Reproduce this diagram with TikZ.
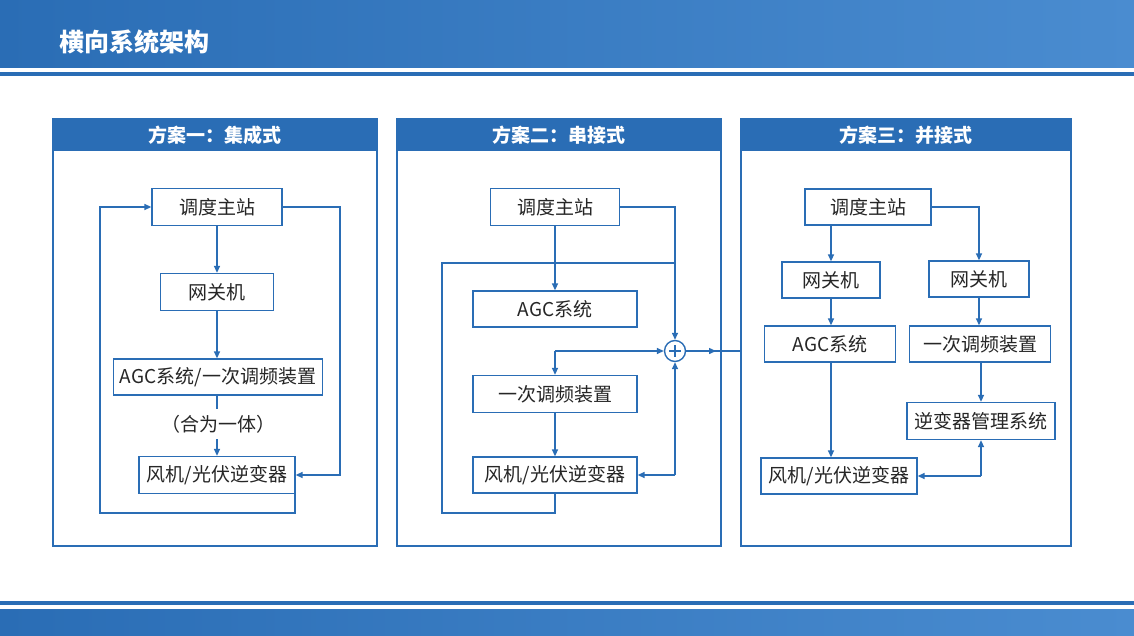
\documentclass[tikz,border=0pt]{standalone}
\usepackage{fontspec}
\setmainfont{Noto Sans CJK SC}
\usetikzlibrary{arrows.meta,calc}
\definecolor{bl}{HTML}{2A6DB5}
\definecolor{bl2}{HTML}{4A8CD0}
\begin{document}
\begin{tikzpicture}[x=1pt,y=-1pt,
  box/.style={draw=bl,line width=1.3pt,fill=white,inner sep=0pt,font=\fontsize{19}{21}\selectfont,text=black!85},
  ln/.style={draw=bl,line width=1.4pt},
  ar/.style={ln,-{Triangle[length=7pt,width=6pt]}},
  panel/.style={draw=bl,line width=1.3pt},
  ph/.style={fill=bl,inner sep=0pt,font=\fontsize{19}{21}\selectfont\bfseries,text=white}]
\useasboundingbox (0,0) rectangle (1134,636);
\fill[white] (0,0) rectangle (1134,636);
% top band
\shade[left color=bl,right color=bl2] (0,0) rectangle (1134,68);
\fill[bl] (0,72) rectangle (1134,76);
\node[anchor=west,text=white,font=\fontsize{25}{28}\selectfont\bfseries] (title) at (56,42) {横向系统架构};
% bottom band
\fill[bl] (0,601) rectangle (1134,605);
\shade[left color=bl,right color=bl2] (0,609) rectangle (1134,636);
% panels
\foreach \x/\w/\t/\n in {53/324/方案一：集成式/p1,397/324/方案二：串接式/p2,741/330/方案三：并接式/p3}{
  \draw[panel] (\x,119) rectangle ++(\w,427);
  \node[ph,minimum width=\w pt,minimum height=32pt,anchor=north west] (\n) at (\x,119) {\t};
}
% ---- panel 1
\node[box,minimum width=130pt,minimum height=37pt] (a1) at (217,207) {调度主站};
\node[box,minimum width=113pt,minimum height=37pt] (a2) at (217,292) {网关机};
\node[box,minimum width=209pt,minimum height=36pt] (a3) at (218,377) {AGC系统/一次调频装置};
\node[font=\fontsize{19}{21}\selectfont,text=black!85,inner sep=1pt] (a4) at (218,424) {（合为一体）};
\node[box,minimum width=156pt,minimum height=37pt] (a5) at (217,475) {风机/光伏逆变器};
\draw[ar] (a1) -- (a2);
\draw[ar] (a2) -- (a3.north -| a2);
\draw[ln] (a3.south -| a2) -- (217,409);
\draw[ar] (217,439) -- (a5.north);
\coordinate (c1) at (295,513);
\draw[ar] (a5.south east -| c1) -- (c1) -- (100,513) -- (100,207) -- (a1.west);
\draw[ar] (a1.east) -- (340,207) -- (340,475) -- (a5.east);
% ---- panel 2
\node[box,minimum width=129pt,minimum height=37pt] (b1) at (555,207) {调度主站};
\node[box,minimum width=164pt,minimum height=36pt] (b2) at (555,309) {AGC系统};
\node[box,minimum width=164pt,minimum height=37pt] (b3) at (555,394) {一次调频装置};
\node[box,minimum width=164pt,minimum height=36pt] (b4) at (555,475) {风机/光伏逆变器};
\node[draw=bl,line width=1.4pt,circle,minimum size=21pt,inner sep=0pt,fill=white] (s) at (675,351) {};
\draw[bl,line width=1.4pt] (s.center) ++(-6,0) -- ++(12,0) (s.center) ++(0,-6) -- ++(0,12);
\draw[ar] (b1.south) -- (b2.north);
\draw[ar] (b1.east) -- (675,207) -- (s.north);
\draw[ln] (b4.south) -- (555,513) -- (442,513) -- (442,263) -- (675,263);
\draw[ar] (555,351) -- (s.west);
\draw[ar] (555,351) -- (b3.north);
\draw[ar] (b3.south) -- (b4.north);
\draw[ar] (675,475) -- (s.south);
\draw[ar] (675,475) -- (b4.east);
\draw[ar] (s.east) -- (716,351);
\draw[ln] (712,351) -- (741,351);
% ---- panel 3
\node[box,minimum width=126pt,minimum height=36pt] (d1) at (868,207) {调度主站};
\node[box,minimum width=98pt,minimum height=36pt] (d2) at (831,280) {网关机};
\node[box,minimum width=100pt,minimum height=36pt] (d3) at (979,279) {网关机};
\node[box,minimum width=131pt,minimum height=36pt] (d4) at (830,344) {AGC系统};
\node[box,minimum width=141pt,minimum height=36pt] (d5) at (980,344) {一次调频装置};
\node[box,minimum width=148pt,minimum height=37pt] (d6) at (981,421) {逆变器管理系统};
\node[box,minimum width=156pt,minimum height=36pt] (d7) at (839,476) {风机/光伏逆变器};
\draw[ar] (d1.south -| d2) -- (d2.north);
\draw[ar] (d1.east) -| (d3.north);
\draw[ar] (d2) -- (d2 |- d4.north);
\draw[ar] (d3) -- (d3 |- d5.north);
\draw[ar] (d4.south -| d2) -- (d7.north -| d2);
\draw[ar] (d5.south -| d6) -- (d6.north);
\draw[ar] (981,476) -- (d6.south);
\draw[ar] (981,476) -- (d7.east);
\end{tikzpicture}
\end{document}
